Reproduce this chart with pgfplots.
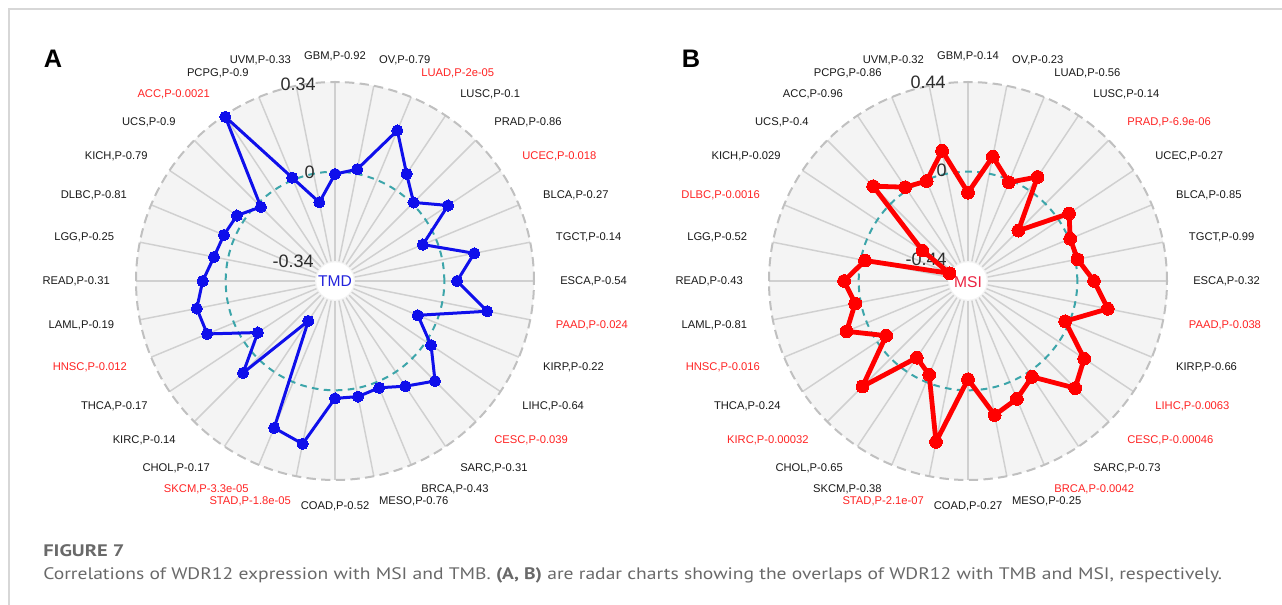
\documentclass[border=0pt]{standalone}
\usepackage{pgfplots}
\pgfplotsset{compat=1.18}
\usepackage{pgfplotstable}
\usepackage{graphicx}
\usepackage{fontspec}
\setmainfont{Liberation Sans}
\newfontfamily\capfont{PT Sans}

\definecolor{labred}{RGB}{255,35,35}
\definecolor{labblk}{RGB}{25,25,25}
\definecolor{spokec}{RGB}{208,208,208}
\definecolor{disc}{RGB}{244,244,244}
\definecolor{rim}{RGB}{192,192,192}
\definecolor{teal0}{RGB}{60,165,170}
\definecolor{tmbblue}{RGB}{15,15,235}
\definecolor{tmdtxt}{RGB}{35,35,220}
\definecolor{msired}{RGB}{255,0,0}
\definecolor{msitxt}{RGB}{235,35,65}
\definecolor{capgray}{RGB}{105,105,105}
\definecolor{framec}{RGB}{215,215,215}
\definecolor{ticktxt}{RGB}{45,45,45}

% idx: spoke number (clockwise from top, 11.25 deg apart); row 32 closes the polygon
\pgfplotstableread{
idx tmb msi
0 -0.008 -0.102
1 0.019 0.088
2 0.206 -0.011
3 0.076 0.080
4 0.008 -0.187
5 0.103 0.062
6 -0.053 0.008
7 0.126 0.013
8 0.050 0.084
9 0.176 0.166
10 -0.074 -0.019
11 0.025 0.152
12 0.124 0.210
13 0.067 0.031
14 0.025 0.092
15 0.034 0.137
16 0.032 -0.053
17 0.218 0.272
18 0.191 -0.037
19 -0.233 -0.083
20 0.080 0.199
21 -0.062 -0.052
22 0.112 0.111
23 0.122 0.030
24 0.089 0.074
25 0.055 -0.020
26 0.043 -0.440
27 0.034 -0.268
28 -0.016 0.124
29 0.338 0.019
30 0.011 -0.004
31 -0.110 0.118
32 -0.008 -0.102
}\radar

\newcommand{\labfont}{\fontsize{8.4}{10}\selectfont}
\newcommand{\lab}[5]{\node[anchor=#3,text=#4,inner sep=0pt,font=\labfont] at (axis cs:{#1+225*sin(11.25*#2)},{281-225*cos(11.25*#2)}) {#5};}
\newcommand{\radarbg}[1]{%
  \fill[disc] (axis cs:#1,281) circle[radius=149.25pt];
  \pgfplotsinvokeforeach{0,...,31}{\draw[spokec,line width=1.1pt] (axis cs:{#1+20*sin(11.25*##1)},{281-20*cos(11.25*##1)}) -- (axis cs:{#1+199*sin(11.25*##1)},{281-199*cos(11.25*##1)});}
  \draw[rim,line width=1.5pt,dash pattern=on 7pt off 4pt] (axis cs:#1,281) circle[radius=149.25pt];
  \draw[teal0,line width=1.5pt,dash pattern=on 5pt off 4pt] (axis cs:#1,281) circle[radius=82pt];
  \fill[white] (axis cs:#1,281) circle[radius=14pt];
}

\begin{document}
\begin{tikzpicture}
\useasboundingbox (0,0) rectangle (961.5pt,453.75pt);
\begin{axis}[
  at={(0,0)}, anchor=south west,
  x=0.75pt, y=0.75pt,
  xmin=0, xmax=1282, ymin=0, ymax=605,
  y dir=reverse,
  hide axis, clip=false,
]
% frame
\draw[framec,line width=1.4pt] (axis cs:9,605) -- (axis cs:9,9) -- (axis cs:1282,9);

% panel A background
\radarbg{335}
\node[text=tmdtxt,font=\fontsize{11.7}{12}\selectfont] at (axis cs:335,281) {TMD};
\node[anchor=east,text=ticktxt,inner sep=0pt,font=\fontsize{13.5}{13}\selectfont] at (axis cs:316,84) {0.34};
\node[anchor=east,text=ticktxt,inner sep=0pt,font=\fontsize{13.5}{13}\selectfont] at (axis cs:315,172) {0};
\node[anchor=east,text=ticktxt,inner sep=0pt,font=\fontsize{13.5}{13}\selectfont] at (axis cs:314,261) {-0.34};

% panel B background
\radarbg{968}
\node[text=msitxt,font=\fontsize{11.7}{12}\selectfont] at (axis cs:968,282) {MSI};
\node[anchor=east,text=ticktxt,inner sep=0pt,font=\fontsize{13.5}{13}\selectfont] at (axis cs:946,82) {0.44};
\node[anchor=east,text=ticktxt,inner sep=0pt,font=\fontsize{13.5}{13}\selectfont] at (axis cs:947,170) {0};
\node[anchor=east,text=ticktxt,inner sep=0pt,font=\fontsize{13.5}{13}\selectfont] at (axis cs:947,259) {-0.44};

% data
\addplot[tmbblue,line width=2.25pt,line join=round,mark=*,mark size=4.2pt,mark options={fill=tmbblue,draw=tmbblue,line width=0pt}]
  table[x expr={335+(20+(\thisrow{tmb}+0.34)*178/0.68)*sin(11.25*\thisrow{idx})},
        y expr={281-(20+(\thisrow{tmb}+0.34)*178/0.68)*cos(11.25*\thisrow{idx})}] {\radar};
\addplot[msired,line width=3.6pt,line join=round,mark=*,mark size=4.8pt,mark options={fill=msired,draw=msired,line width=0pt}]
  table[x expr={968+(20+(\thisrow{msi}+0.44)*178/0.88)*sin(11.25*\thisrow{idx})},
        y expr={281-(20+(\thisrow{msi}+0.44)*178/0.88)*cos(11.25*\thisrow{idx})}] {\radar};

% panel A labels
\lab{335}{0}{center}{labblk}{GBM,P-0.92}
\lab{335}{1}{west}{labblk}{OV,P-0.79}
\lab{335}{2}{west}{labred}{LUAD,P-2e-05}
\lab{335}{3}{west}{labblk}{LUSC,P-0.1}
\lab{335}{4}{west}{labblk}{PRAD,P-0.86}
\lab{335}{5}{west}{labred}{UCEC,P-0.018}
\lab{335}{6}{west}{labblk}{BLCA,P-0.27}
\lab{335}{7}{west}{labblk}{TGCT,P-0.14}
\lab{335}{8}{west}{labblk}{ESCA,P-0.54}
\lab{335}{9}{west}{labred}{PAAD,P-0.024}
\lab{335}{10}{west}{labblk}{KIRP,P-0.22}
\lab{335}{11}{west}{labblk}{LIHC,P-0.64}
\lab{335}{12}{west}{labred}{CESC,P-0.039}
\lab{335}{13}{west}{labblk}{SARC,P-0.31}
\lab{335}{14}{west}{labblk}{BRCA,P-0.43}
\lab{335}{15}{west}{labblk}{MESO,P-0.76}
\lab{335}{16}{center}{labblk}{COAD,P-0.52}
\lab{335}{17}{east}{labred}{STAD,P-1.8e-05}
\lab{335}{18}{east}{labred}{SKCM,P-3.3e-05}
\lab{335}{19}{east}{labblk}{CHOL,P-0.17}
\lab{335}{20}{east}{labblk}{KIRC,P-0.14}
\lab{335}{21}{east}{labblk}{THCA,P-0.17}
\lab{335}{22}{east}{labred}{HNSC,P-0.012}
\lab{335}{23}{east}{labblk}{LAML,P-0.19}
\lab{335}{24}{east}{labblk}{READ,P-0.31}
\lab{335}{25}{east}{labblk}{LGG,P-0.25}
\lab{335}{26}{east}{labblk}{DLBC,P-0.81}
\lab{335}{27}{east}{labblk}{KICH,P-0.79}
\lab{335}{28}{east}{labblk}{UCS,P-0.9}
\lab{335}{29}{east}{labred}{ACC,P-0.0021}
\lab{335}{30}{east}{labblk}{PCPG,P-0.9}
\lab{335}{31}{east}{labblk}{UVM,P-0.33}

% panel B labels
\lab{968}{0}{center}{labblk}{GBM,P-0.14}
\lab{968}{1}{west}{labblk}{OV,P-0.23}
\lab{968}{2}{west}{labblk}{LUAD,P-0.56}
\lab{968}{3}{west}{labblk}{LUSC,P-0.14}
\lab{968}{4}{west}{labred}{PRAD,P-6.9e-06}
\lab{968}{5}{west}{labblk}{UCEC,P-0.27}
\lab{968}{6}{west}{labblk}{BLCA,P-0.85}
\lab{968}{7}{west}{labblk}{TGCT,P-0.99}
\lab{968}{8}{west}{labblk}{ESCA,P-0.32}
\lab{968}{9}{west}{labred}{PAAD,P-0.038}
\lab{968}{10}{west}{labblk}{KIRP,P-0.66}
\lab{968}{11}{west}{labred}{LIHC,P-0.0063}
\lab{968}{12}{west}{labred}{CESC,P-0.00046}
\lab{968}{13}{west}{labblk}{SARC,P-0.73}
\lab{968}{14}{west}{labred}{BRCA,P-0.0042}
\lab{968}{15}{west}{labblk}{MESO,P-0.25}
\lab{968}{16}{center}{labblk}{COAD,P-0.27}
\lab{968}{17}{east}{labred}{STAD,P-2.1e-07}
\lab{968}{18}{east}{labblk}{SKCM,P-0.38}
\lab{968}{19}{east}{labblk}{CHOL,P-0.65}
\lab{968}{20}{east}{labred}{KIRC,P-0.00032}
\lab{968}{21}{east}{labblk}{THCA,P-0.24}
\lab{968}{22}{east}{labred}{HNSC,P-0.016}
\lab{968}{23}{east}{labblk}{LAML,P-0.81}
\lab{968}{24}{east}{labblk}{READ,P-0.43}
\lab{968}{25}{east}{labblk}{LGG,P-0.52}
\lab{968}{26}{east}{labred}{DLBC,P-0.0016}
\lab{968}{27}{east}{labblk}{KICH,P-0.029}
\lab{968}{28}{east}{labblk}{UCS,P-0.4}
\lab{968}{29}{east}{labblk}{ACC,P-0.96}
\lab{968}{30}{east}{labblk}{PCPG,P-0.86}
\lab{968}{31}{east}{labblk}{UVM,P-0.32}

% panel letters
\node[font=\fontsize{19}{19}\selectfont\bfseries] at (axis cs:53,59) {A};
\node[font=\fontsize{19}{19}\selectfont\bfseries] at (axis cs:691,59) {B};

% caption
\node[anchor=west,inner sep=0pt,text=capgray] at (axis cs:43,551) {\resizebox{61pt}{\height}{\capfont\fontsize{12.5}{14}\selectfont\bfseries FIGURE 7}};
\node[anchor=west,inner sep=0pt,text=capgray] at (axis cs:43,575) {\resizebox{884pt}{\height}{\capfont\fontsize{12.5}{14}\selectfont Correlations of WDR12 expression with MSI and TMB. \textbf{(A, B)} are radar charts showing the overlaps of WDR12 with TMB and MSI, respectively.}};
\end{axis}
\end{tikzpicture}
\end{document}
